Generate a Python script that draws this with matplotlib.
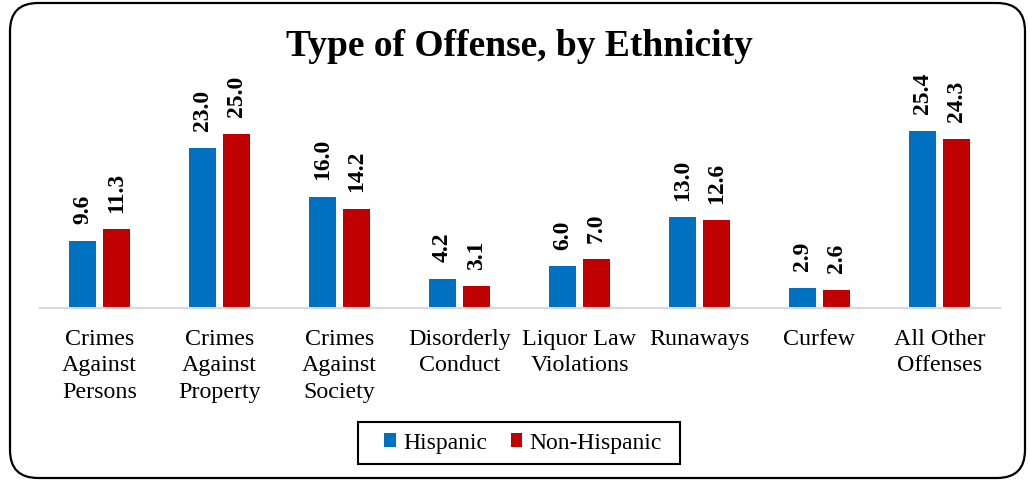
import numpy as np
import matplotlib.pyplot as plt
from matplotlib.patches import FancyBboxPatch, Rectangle

categories = ["Crimes\nAgainst\nPersons", "Crimes\nAgainst\nProperty", "Crimes\nAgainst\nSociety",
              "Disorderly\nConduct", "Liquor Law\nViolations", "Runaways", "Curfew",
              "All Other\nOffenses"]
hispanic = [9.6, 23.0, 16.0, 4.2, 6.0, 13.0, 2.9, 25.4]
non_hispanic = [11.3, 25.0, 14.2, 3.1, 7.0, 12.6, 2.6, 24.3]

blue = "#0070C0"
red = "#C00000"

plt.rcParams["font.family"] = ["Liberation Serif", "DejaVu Serif"]

fig = plt.figure(figsize=(10.28, 4.8), dpi=100)

# rounded frame and legend box drawn in pixel coords
bg = fig.add_axes([0, 0, 1, 1], zorder=-1)
bg.set_xlim(0, 1028)
bg.set_ylim(0, 480)
bg.axis("off")
frame = FancyBboxPatch((10, 2), 1015, 475, boxstyle="round,pad=0,rounding_size=28",
                       facecolor="white", edgecolor="black", linewidth=1.6)
bg.add_patch(frame)
bg.add_patch(Rectangle((358, 480 - 464), 322, 42, facecolor="none",
                       edgecolor="black", linewidth=1.5))

ax = fig.add_axes([39.5 / 1028, 172 / 480, 960 / 1028, 209 / 480])
ax.patch.set_alpha(0)
x = np.arange(len(categories))
w = 0.225
off = 0.1417
b1 = ax.bar(x - off, hispanic, w, color=blue, label="Hispanic")
b2 = ax.bar(x + off, non_hispanic, w, color=red, label="Non-Hispanic")

for bars, vals in ((b1, hispanic), (b2, non_hispanic)):
    ax.bar_label(bars, labels=[f"{v:.1f}" for v in vals], padding=12, rotation=90,
                 fontsize=17, fontweight="bold")

ax.set_xlim(-0.5, len(categories) - 0.5)
ax.set_ylim(0, 30)
ax.set_yticks([])
ax.set_xticks(x)
ax.set_xticklabels(categories, fontsize=17.3, linespacing=1.35)
ax.tick_params(axis="x", length=0, pad=15)
for s in ("top", "right", "left"):
    ax.spines[s].set_visible(False)
ax.spines["bottom"].set_color("#D9D9D9")
ax.spines["bottom"].set_linewidth(1.5)

fig.text(519 / 1028, 1 - 47 / 480, "Type of Offense, by Ethnicity", ha="center", va="center",
         fontsize=27, fontweight="bold")

leg = fig.legend(handles=[b1, b2], loc="center", bbox_to_anchor=(523 / 1028, 1 - 443 / 480),
                 ncol=2, fontsize=17, frameon=False, handlelength=0.5,
                 handleheight=0.5, handletextpad=0.3, columnspacing=1.0)

fig.savefig("out.png", dpi=100)
